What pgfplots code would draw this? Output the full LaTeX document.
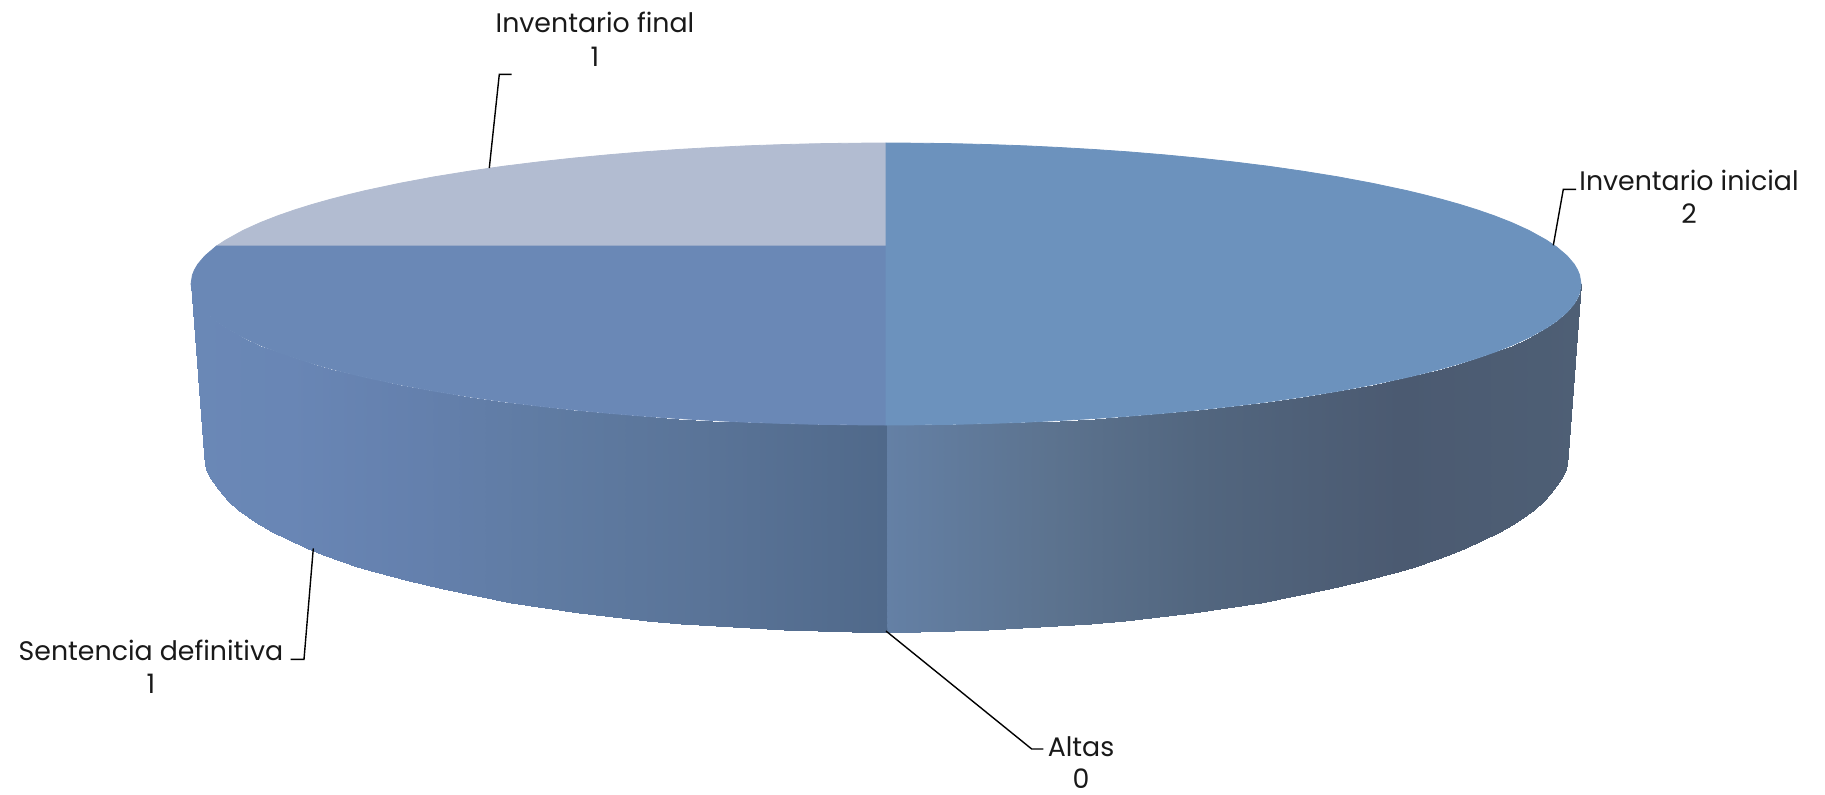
\documentclass[border=0pt]{standalone}
\usepackage{fontspec}
\setmainfont{Poppins}
\usepackage{pgfplots}
\pgfplotsset{compat=1.18}
\usepackage{pgfplotstable}

\definecolor{sliceA}{RGB}{108,146,189}
\definecolor{sliceB}{RGB}{106,136,182}
\definecolor{sliceC}{RGB}{178,188,209}

\tikzset{lbl/.style={anchor=base, inner sep=0pt, text=black!90, font=\fontsize{13.4}{16}\selectfont}}

% side of the disc, pixel coordinates: upper rim first, lower rim after
\pgfplotstableread{
x y
886 425
851.25 424.8
816.5 424.3
781.75 423.4
747 422.2
712.25 420.5
677.5 418.5
642.75 416.1
608 413.2
573.25 409.9
538.5 406.1
503.75 401.8
469 396.8
434.25 391.2
399.5 384.7
364.75 377.3
347.4 373.1
330 368.6
312.6 363.7
295.25 358.3
277.9 352.3
260.5 345.5
243.1 337.6
225.75 328
215.3 321
204.9 312.1
197.9 303.9
194.5 298.1
192.4 292.9
191 284
886 632
851.9 631.8
817.8 631.1
783.7 630
749.6 628.4
715.5 626.3
681.4 623.8
647.3 620.7
613.2 617.1
579.1 613
545 608.2
510.9 602.7
476.8 596.4
442.7 589.3
408.6 581.1
374.5 571.7
357.4 566.5
340.4 560.8
323.3 554.6
306.3 547.8
289.2 540.2
272.2 531.6
255.1 521.6
238.1 509.6
227.9 500.7
217.6 489.4
210.8 479.1
207.4 471.8
205.4 465.2
204 454
}\wallleft

\pgfplotstableread{
x y
886 425
920.75 424.8
955.5 424.3
990.25 423.4
1025 422.2
1059.75 420.5
1094.5 418.5
1129.25 416.1
1164 413.2
1198.75 409.9
1233.5 406.1
1268.25 401.8
1303 396.8
1337.75 391.2
1372.5 384.7
1407.25 377.3
1424.6 373.1
1442 368.6
1459.4 363.7
1476.75 358.3
1494.1 352.3
1511.5 345.5
1528.9 337.6
1546.25 328
1556.7 321
1567.1 312.1
1574.1 303.9
1577.5 298.1
1579.6 292.9
1581 284
886 632
920.1 631.8
954.2 631.1
988.3 630
1022.4 628.4
1056.5 626.3
1090.6 623.8
1124.7 620.7
1158.8 617.1
1192.9 613
1227 608.2
1261.1 602.7
1295.2 596.4
1329.3 589.3
1363.4 581.1
1397.5 571.7
1414.6 566.5
1431.6 560.8
1448.7 554.6
1465.7 547.8
1482.8 540.2
1499.8 531.6
1516.9 521.6
1533.9 509.6
1544.1 500.7
1554.4 489.4
1561.2 479.1
1564.6 471.8
1566.6 465.2
1568 454
}\wallright

\begin{document}
\begin{tikzpicture}
\useasboundingbox (0,0) rectangle (912.5pt,397pt);
\begin{axis}[
    at={(0,0)},
    anchor=south west,
    scale only axis,
    width=912.5pt,
    height=397pt,
    xmin=0, xmax=1825,
    ymin=0, ymax=794,
    y dir=reverse,
    hide axis,
    clip=false,
    colormap={wall}{
        rgb255(191pt)=(106,136,182);
        rgb255(290pt)=(105,134,181);
        rgb255(420pt)=(100,128,173);
        rgb255(550pt)=(95,123,162);
        rgb255(700pt)=(90,116,152);
        rgb255(886pt)=(80,105,138);
        rgb255(887pt)=(100,128,165);
        rgb255(1050pt)=(92,115,143);
        rgb255(1200pt)=(82,102,127);
        rgb255(1400pt)=(75,90,113);
        rgb255(1581pt)=(78,95,117);
    },
    point meta min=191,
    point meta max=1581,
]

% wall
\addplot[surf, shader=interp, mesh/cols=30, point meta=x] table[x=x, y=y] {\wallleft};
\addplot[surf, shader=interp, mesh/cols=30, point meta=x] table[x=x, y=y] {\wallright};

% top: Inventario final
\addplot[fill=sliceC, draw=sliceC, line width=0.4pt] coordinates {
(886,246) (216.5,246) (225.75,240) (243.1,230.4) (260.5,222.5) (277.9,215.7)
(295.25,209.7) (312.6,204.3) (330,199.4) (347.4,194.9)
(364.75,190.7) (399.5,183.3) (434.25,176.8) (469,171.2) (503.75,166.2) (538.5,161.9)
(573.25,158.1) (608,154.8) (642.75,151.9) (677.5,149.5) (712.25,147.5) (747,145.8)
(781.75,144.6) (816.5,143.7) (851.25,143.2) (886,143)
} -- cycle;

% top: Sentencia definitiva
\addplot[fill=sliceB, draw=sliceB, line width=0.4pt] coordinates {
(886,246) (216.5,246) (204.9,255.9) (197.9,264.1) (194.5,269.9) (192.4,275.1)
(191,284) (192.4,292.9) (194.5,298.1) (197.9,303.9) (204.9,312.1) (215.3,321)
(225.75,328) (243.1,337.6) (260.5,345.5) (277.9,352.3) (295.25,358.3) (312.6,363.7)
(330,368.6) (347.4,373.1) (364.75,377.3)
(399.5,384.7) (434.25,391.2) (469,396.8) (503.75,401.8) (538.5,406.1) (573.25,409.9)
(608,413.2) (642.75,416.1) (677.5,418.5) (712.25,420.5) (747,422.2) (781.75,423.4)
(816.5,424.3) (851.25,424.8) (886,425)
} -- cycle;

% top: Inventario inicial
\addplot[fill=sliceA, draw=sliceA, line width=0.4pt] coordinates {
(886,143) (920.75,143.2) (955.5,143.7) (990.25,144.6) (1025,145.8) (1059.75,147.5)
(1094.5,149.5) (1129.25,151.9) (1164,154.8) (1198.75,158.1) (1233.5,161.9)
(1268.25,166.2) (1303,171.2) (1337.75,176.8) (1372.5,183.3) (1407.25,190.7)
(1424.6,194.9) (1442,199.4) (1459.4,204.3) (1476.75,209.7) (1494.1,215.7)
(1511.5,222.5) (1528.9,230.4) (1546.25,240) (1556.7,247) (1567.1,255.9)
(1574.1,264.1) (1577.5,269.9) (1579.6,275.1) (1581,284) (1579.6,292.9)
(1577.5,298.1) (1574.1,303.9) (1567.1,312.1) (1556.7,321) (1546.25,328)
(1528.9,337.6) (1511.5,345.5) (1494.1,352.3) (1476.75,358.3) (1459.4,363.7)
(1442,368.6) (1424.6,373.1) (1407.25,377.3) (1372.5,384.7)
(1337.75,391.2) (1303,396.8) (1268.25,401.8) (1233.5,406.1) (1198.75,409.9)
(1164,413.2) (1129.25,416.1) (1094.5,418.5) (1059.75,420.5) (1025,422.2)
(990.25,423.4) (955.5,424.3) (920.75,424.8) (886,425)
} -- cycle;

% leader lines
\addplot[black, line width=0.7pt] coordinates {(489.3,168) (499.3,74.3) (511.7,74.3)};
\addplot[black, line width=0.7pt] coordinates {(1553.3,245.3) (1563.3,189.3) (1576,189.3)};
\addplot[black, line width=0.7pt] coordinates {(886,631) (1031.7,749) (1043.3,749)};
\addplot[black, line width=0.7pt] coordinates {(313.3,548.3) (304,659.3) (290.7,659.3)};

\node[lbl] at (axis cs:595,32) {Inventario final};
\node[lbl] at (axis cs:595,66) {1};
\node[lbl] at (axis cs:1689,190) {Inventario inicial};
\node[lbl] at (axis cs:1689,223) {2};
\node[lbl] at (axis cs:1081,756) {Altas};
\node[lbl] at (axis cs:1081,788) {0};
\node[lbl] at (axis cs:151,660) {Sentencia definitiva};
\node[lbl] at (axis cs:151,693) {1};
\end{axis}
\end{tikzpicture}
\end{document}
